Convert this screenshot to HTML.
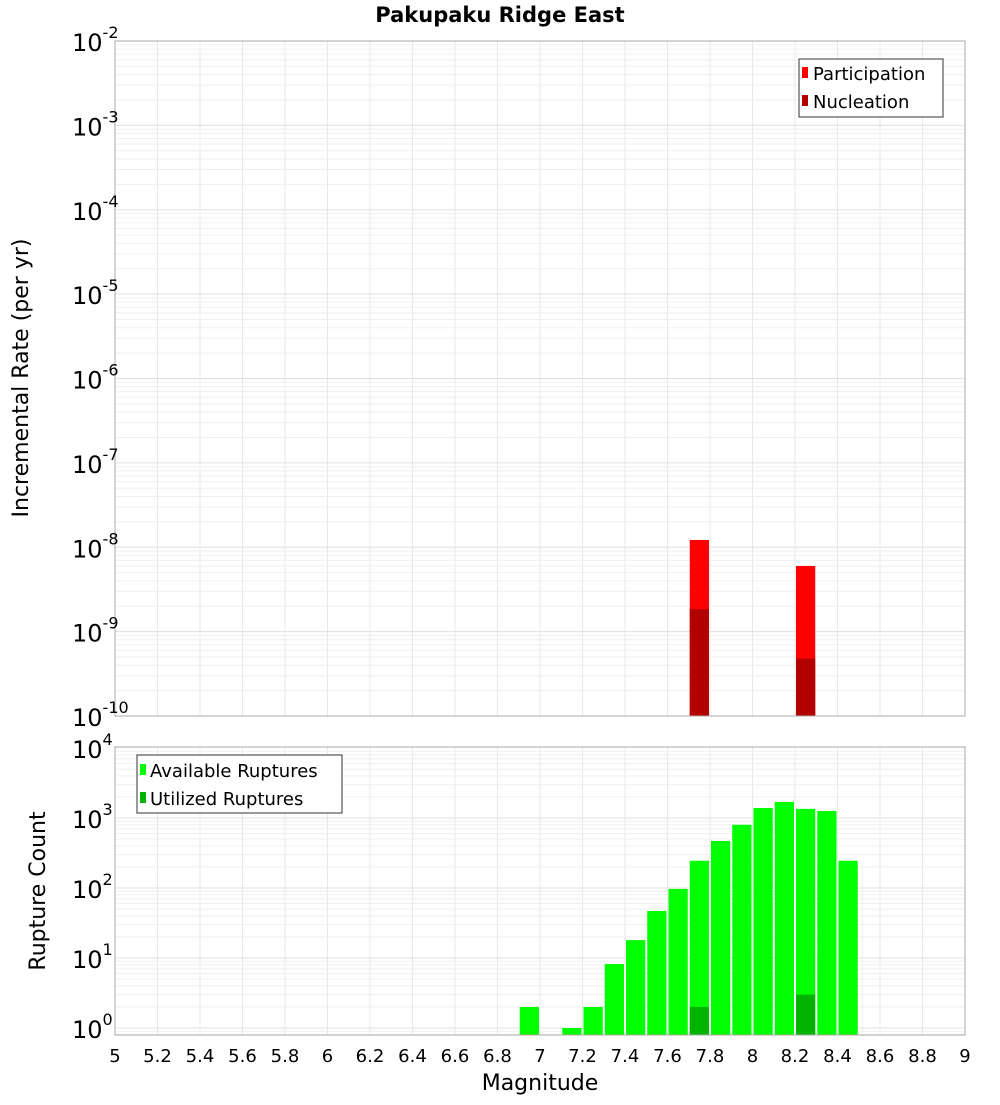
<!DOCTYPE html>
<html><head><meta charset="utf-8"><style>
body{margin:0;background:#fff;}
svg text{font-family:"DejaVu Sans","Liberation Sans",sans-serif;}
</style></head><body>
<svg id="c" width="1000" height="1100" xmlns="http://www.w3.org/2000/svg"></svg>
<script>
const magBins=[6.95,7.15,7.25,7.35,7.45,7.55,7.65,7.75,7.85,7.95,8.05,8.15,8.25,8.35,8.45];
const availableCounts=[2,1,2,8.2,18,47,97,245,470,800,1390,1700,1350,1260,245];
const utilizedBins=[7.75,8.25];
const utilizedCounts=[2,3];
const rateBins=[7.75,8.25];
const participationRates=[1.22e-8,6.0e-9];
const nucleationRates=[1.85e-9,4.8e-10];
const xTicks=[5,5.2,5.4,5.6,5.8,6,6.2,6.4,6.6,6.8,7,7.2,7.4,7.6,7.8,8,8.2,8.4,8.6,8.8,9];
const topExps=[-2,-3,-4,-5,-6,-7,-8,-9,-10];
const botExps=[4,3,2,1,0];

const NS="http://www.w3.org/2000/svg";
const svg=document.getElementById('c');
function el(t,a,p){const e=document.createElementNS(NS,t);for(const k in a)e.setAttribute(k,a[k]);(p||svg).appendChild(e);return e;}
const L=115,R=965;
const x=m=>L+(m-5)/4*(R-L);
const T1=41,B1=716;const yTop=v=>B1-(Math.log10(v)+10)*(B1-T1)/8;
const T2=747,B2=1035;const ppd=70;const yBot=v=>1028-Math.log10(v)*ppd;

function grid(top,bot,ymap,lo,hi){
  const g=el('g',{});
  
  for(const t of xTicks){el('line',{x1:x(t),x2:x(t),y1:top,y2:bot,stroke:'#e8e8e8','stroke-width':1},g);}
  for(let e=lo;e<hi;e++)for(let k=1;k<10;k++){const y=ymap(k*Math.pow(10,e));if(y>=top&&y<=bot)el('line',{x1:L,x2:R,y1:y,y2:y,stroke:k==1?'#e0e0e0':'#efefef','stroke-width':1},g);}
}
// title
let t=el('text',{x:500,y:22,'text-anchor':'middle','font-size':21,'font-weight':'bold'});t.textContent='Pakupaku Ridge East';


// top plot
grid(T1,B1,yTop,-10,-2);
const bw=x(5.1)-x(5);
rateBins.forEach((m,i)=>{
  const r=el('rect',{x:x(m)-bw/2+1,y:yTop(participationRates[i]),width:bw-2,height:B1-yTop(participationRates[i]),fill:'#ff0000'});
  
  const n=el('rect',{x:x(m)-bw/2+1,y:yTop(nucleationRates[i]),width:bw-2,height:B1-yTop(nucleationRates[i]),fill:'#b30000'});
  
});
el('rect',{x:L,y:T1,width:R-L,height:B1-T1,fill:'none',stroke:'#aaa'});
topExps.forEach(e=>{const y=yTop(Math.pow(10,e));
  const tx=el('text',{x:72,y:y+10,'font-size':24});
  tx.innerHTML='10<tspan dy="-13" font-size="16">'+e+'</tspan>';});
t=el('text',{x:28,y:378,'text-anchor':'middle','font-size':22,transform:'rotate(-90 28 378)'});t.textContent='Incremental Rate (per yr)';

// top legend
let lg=el('g',{});
el('rect',{x:799,y:59,width:144,height:58,fill:'#fff',stroke:'#333'},lg);
el('rect',{x:802,y:67,width:6,height:11,fill:'#ff0000'},lg);
el('rect',{x:802,y:95,width:6,height:11,fill:'#b30000'},lg);
t=el('text',{x:813,y:80,'font-size':18},lg);t.textContent='Participation';
t=el('text',{x:813,y:108,'font-size':18},lg);t.textContent='Nucleation';

// bottom plot
grid(T2,B2,yBot,-1,4);
magBins.forEach((m,i)=>{const y=yBot(availableCounts[i]);
  const r=el('rect',{x:x(m)-bw/2+1,y:y,width:bw-2,height:B2-y,fill:'#00ff00'});
  });
utilizedBins.forEach((m,i)=>{const y=yBot(utilizedCounts[i]);
  const r=el('rect',{x:x(m)-bw/2+1,y:y,width:bw-2,height:B2-y,fill:'#00b300'});
  });
el('rect',{x:L,y:T2,width:R-L,height:B2-T2,fill:'none',stroke:'#aaa'});
botExps.forEach(e=>{const y=yBot(Math.pow(10,e));
  const tx=el('text',{x:72,y:y+10,'font-size':24});
  tx.innerHTML='10<tspan dy="-13" font-size="16">'+e+'</tspan>';});
xTicks.forEach(v=>{const tx=el('text',{x:x(v),y:1062,'text-anchor':'middle','font-size':18});tx.textContent=String(v);
  });
t=el('text',{x:540,y:1090,'text-anchor':'middle','font-size':22});t.textContent='Magnitude';

t=el('text',{x:45,y:891,'text-anchor':'middle','font-size':22,transform:'rotate(-90 45 891)'});t.textContent='Rupture Count';

lg=el('g',{});
el('rect',{x:137,y:755,width:205,height:58,fill:'#fff',stroke:'#333'},lg);
el('rect',{x:140,y:764,width:6,height:11,fill:'#00ff00'},lg);
el('rect',{x:140,y:792,width:6,height:11,fill:'#00b300'},lg);
t=el('text',{x:150,y:777,'font-size':18},lg);t.textContent='Available Ruptures';
t=el('text',{x:150,y:805,'font-size':18},lg);t.textContent='Utilized Ruptures';
</script>
</body></html>
